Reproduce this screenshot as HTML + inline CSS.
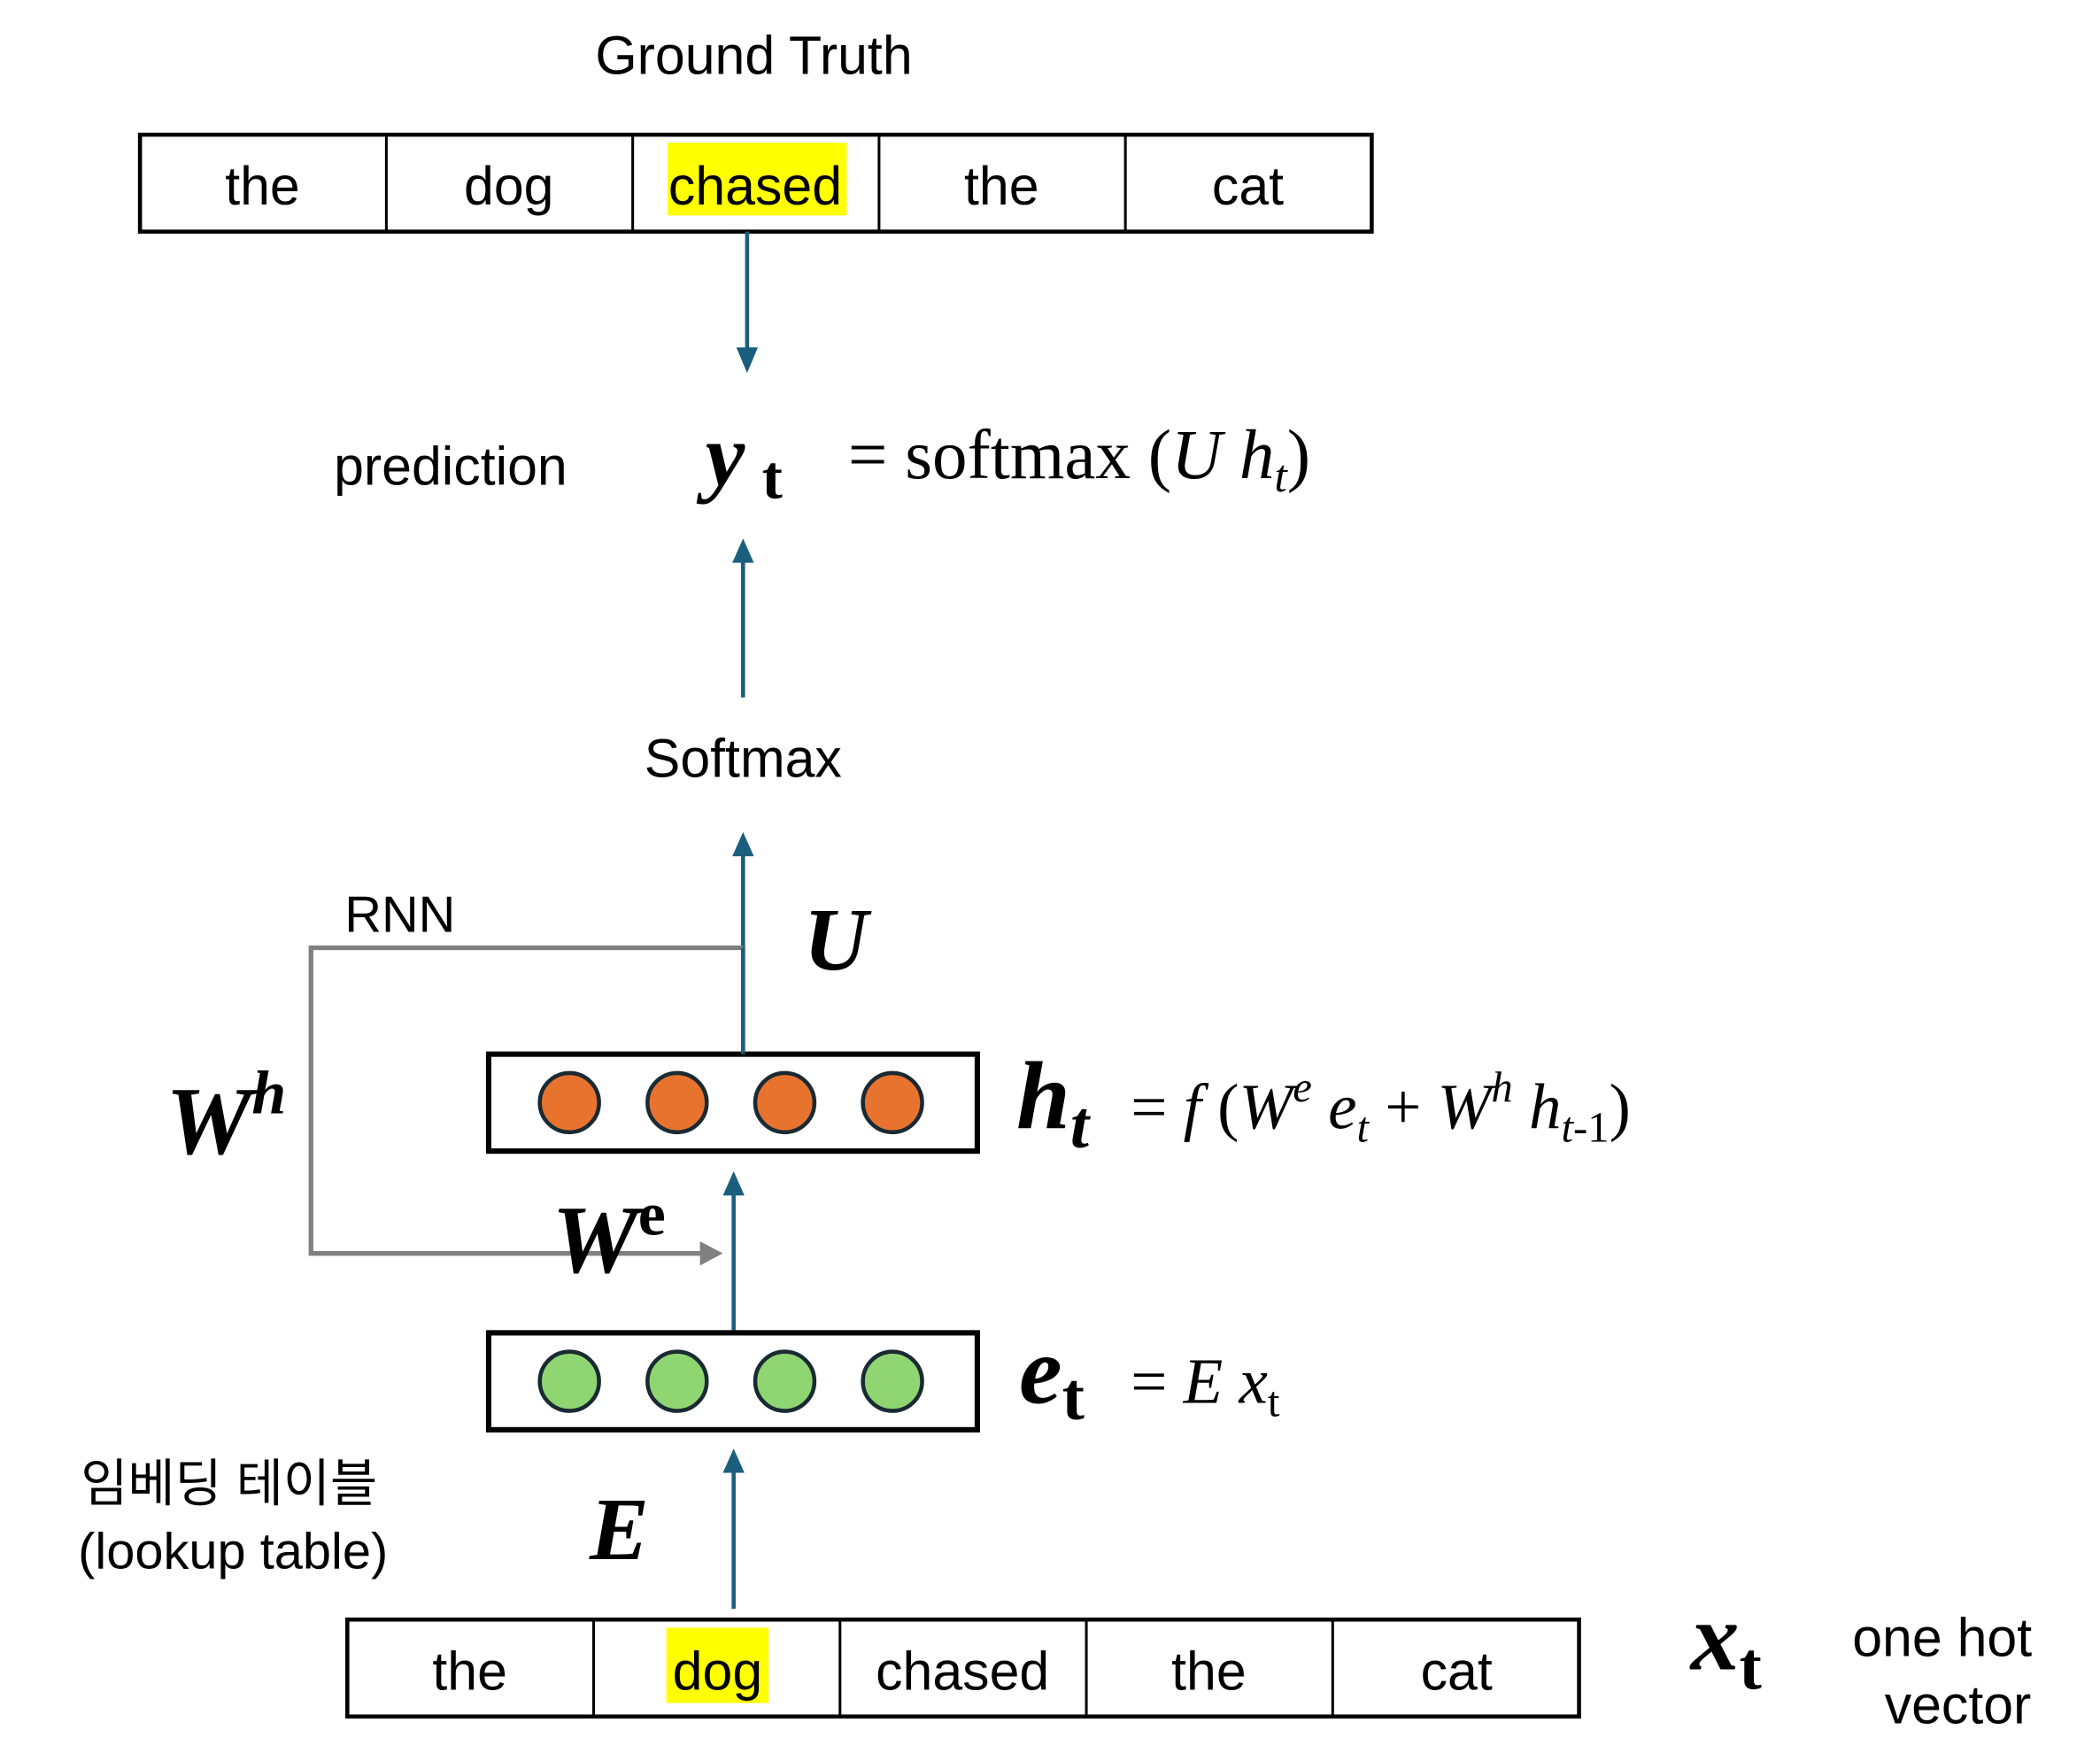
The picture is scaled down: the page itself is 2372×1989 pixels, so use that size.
<!DOCTYPE html>
<html><head><meta charset="utf-8"><style>html,body{margin:0;padding:0;background:#fff}svg{display:block}</style></head>
<body>
<svg width="2372" height="1989" viewBox="0 0 1560 1308" xmlns="http://www.w3.org/2000/svg">
<defs>
<marker id="ab" markerWidth="8" markerHeight="8" refX="6" refY="4" orient="auto" markerUnits="userSpaceOnUse"><path d="M0,0 L0,0"/></marker>
</defs>
<g font-family="Liberation Sans, sans-serif" fill="#000">
<text x="560" y="55" font-size="40" text-anchor="middle">Ground Truth</text>
<!-- top table -->
<rect x="496" y="106" width="133" height="54" fill="#ffff00"/>
<rect x="104" y="100" width="915" height="72" fill="none" stroke="#000" stroke-width="3"/>
<g stroke="#000" stroke-width="2"><line x1="287" y1="100" x2="287" y2="172"/><line x1="470" y1="100" x2="470" y2="172"/><line x1="653" y1="100" x2="653" y2="172"/><line x1="836" y1="100" x2="836" y2="172"/></g>
<g font-size="40" text-anchor="middle"><text x="195" y="152">the</text><text x="378" y="152">dog</text><text x="561" y="152">chased</text><text x="744" y="152">the</text><text x="927" y="152">cat</text></g>
<!-- arrows blue -->
<g stroke="#1b5e7e" stroke-width="3" fill="none">
<line x1="555" y1="172" x2="555" y2="262"/>
<line x1="552" y1="518" x2="552" y2="414"/>
<line x1="552" y1="782" x2="552" y2="632"/>
<line x1="545" y1="988" x2="545" y2="884"/>
<line x1="545" y1="1195" x2="545" y2="1090"/>
</g>
<g fill="#1b5e7e">
<path d="M547,258 L563,258 L555,277 Z"/>
<path d="M544,418 L560,418 L552,400 Z"/>
<path d="M544,636 L560,636 L552,618 Z"/>
<path d="M537,888 L553,888 L545,870 Z"/>
<path d="M537,1094 L553,1094 L545,1076 Z"/>
</g>
<text x="248" y="360" font-size="40">prediction</text>
<text x="524" y="360" font-family="Liberation Serif, serif" font-size="66" font-weight="bold" font-style="italic">y</text>
<text x="566" y="370" font-family="Liberation Serif, serif" font-size="46" font-weight="bold">t</text>
<text x="630" y="355" font-family="Liberation Serif, serif" font-size="52">= softmax (<tspan font-style="italic">U h</tspan><tspan font-style="italic" font-size="34" dy="10">t</tspan><tspan dy="-10">)</tspan></text>
<text x="552" y="577" font-size="40" text-anchor="middle">Softmax</text>
<!-- RNN loop -->
<text x="256" y="692" font-size="38">RNN</text>
<path d="M552,704 L231,704 L231,931 L522,931" fill="none" stroke="#808080" stroke-width="3.5"/>
<path d="M520,922 L537,931 L520,940 Z" fill="#808080"/>
<text x="597" y="720" font-family="Liberation Serif, serif" font-size="66" font-weight="bold" font-style="italic">U</text>
<!-- h box -->
<rect x="363" y="783" width="363" height="72" fill="#fff" stroke="#000" stroke-width="4"/>
<line x1="552" y1="704" x2="552" y2="783" stroke="#1b5e7e" stroke-width="3"/>
<g fill="#e8732f" stroke="#1a2a33" stroke-width="3"><circle cx="423" cy="819" r="22"/><circle cx="503" cy="819" r="22"/><circle cx="583" cy="819" r="22"/><circle cx="663" cy="819" r="22"/></g>
<text x="123" y="857" font-family="Liberation Serif, serif" font-size="72" font-weight="bold" font-style="italic">W<tspan font-size="46" dy="-30">h</tspan></text>
<text x="755" y="838" font-family="Liberation Serif, serif" font-size="72" font-weight="bold" font-style="italic">h<tspan font-size="50" dy="14">t</tspan></text>
<text x="840" y="838" font-family="Liberation Serif, serif" font-size="48">= <tspan font-style="italic">f</tspan> (<tspan font-style="italic">W</tspan><tspan font-style="italic" font-size="32" dy="-20">e</tspan><tspan font-style="italic" dy="20"> e</tspan><tspan font-style="italic" font-size="32" dy="10">t</tspan><tspan dy="-10"> + </tspan><tspan font-style="italic">W</tspan><tspan font-style="italic" font-size="32" dy="-20">h</tspan><tspan font-style="italic" dy="20"> h</tspan><tspan font-size="32" dy="10"><tspan font-style="italic">t</tspan>-1</tspan><tspan dy="-10">)</tspan></text>
<text x="410" y="945" font-family="Liberation Serif, serif" font-size="72" font-weight="bold" font-style="italic">W<tspan font-size="46" dy="-28" font-style="normal">e</tspan></text>
<!-- e box -->
<rect x="363" y="990" width="363" height="72" fill="#fff" stroke="#000" stroke-width="4"/>
<g fill="#8fd672" stroke="#1a2a33" stroke-width="3"><circle cx="423" cy="1026" r="22"/><circle cx="503" cy="1026" r="22"/><circle cx="583" cy="1026" r="22"/><circle cx="663" cy="1026" r="22"/></g>
<text x="757" y="1042" font-family="Liberation Serif, serif" font-size="72" font-weight="bold" font-style="italic">e<tspan font-size="50" dy="12" font-style="normal">t</tspan></text>
<text x="840" y="1042" font-family="Liberation Serif, serif" font-size="48">= <tspan font-style="italic">E x</tspan><tspan font-size="32" dy="10">t</tspan></text>
<text x="60" y="1115" font-family="Liberation Sans, 'Noto Sans CJK KR', sans-serif" font-size="38">임베딩 테이블</text>
<text x="58" y="1165" font-size="38">(lookup table)</text>
<text x="438" y="1158" font-family="Liberation Serif, serif" font-size="66" font-weight="bold" font-style="italic">E</text>
<!-- bottom table -->
<rect x="495" y="1209" width="76" height="56" fill="#ffff00"/>
<rect x="258" y="1203" width="915" height="72" fill="none" stroke="#000" stroke-width="3"/>
<g stroke="#000" stroke-width="2"><line x1="441" y1="1203" x2="441" y2="1275"/><line x1="624" y1="1203" x2="624" y2="1275"/><line x1="807" y1="1203" x2="807" y2="1275"/><line x1="990" y1="1203" x2="990" y2="1275"/></g>
<g font-size="40" text-anchor="middle"><text x="349" y="1255">the</text><text x="533" y="1255">dog</text><text x="715" y="1255">chased</text><text x="898" y="1255">the</text><text x="1082" y="1255">cat</text></g>
<text x="1256" y="1240" font-family="Liberation Serif, serif" font-size="72" font-weight="bold" font-style="italic">x<tspan font-size="50" dy="14" font-style="normal">t</tspan></text>
<text x="1376" y="1230" font-size="40">one hot</text>
<text x="1400" y="1280" font-size="40">vector</text>
</g>
</svg>
</body></html>
